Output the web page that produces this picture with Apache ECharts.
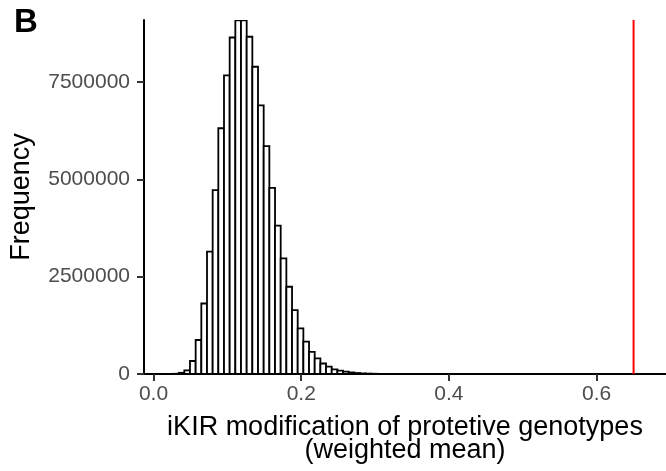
<!DOCTYPE html>
<html>
<head>
<meta charset="utf-8">
<script src="https://cdn.jsdelivr.net/npm/echarts@6/dist/echarts.min.js"></script>
<style>
html,body{margin:0;padding:0;background:#fff;}
#chart{width:666px;height:471px;}
</style>
</head>
<body>
<div id="chart"></div>
<script>
// Histogram bins (regular bin width) and counts
const binStart = 0.02634;
const binWidth = 0.007676;
const counts = [5000, 30000, 95000, 334000, 873000, 1810000, 3140000, 4720000, 6310000, 7670000,
  8640000, 9080000, 9080000, 8660000, 7890000, 6900000, 5850000, 4780000, 3810000, 2970000,
  2240000, 1640000, 1170000, 830000, 570000, 400000, 270000, 190000, 120000, 85000,
  60000, 40000, 25000, 15000, 10000, 6000, 3000];
const observedValue = 0.65;
const xTicks = [0, 0.2, 0.4, 0.6];
const yTicks = [0, 2500000, 5000000, 7500000];
const xMin = -0.0129, xMax = 0.6939;
const yMax = 9090000;

const histData = counts.map((c, i) => [binStart + i * binWidth, binStart + (i + 1) * binWidth, c]);

const FONT = "'Liberation Sans', Arial, Helvetica, sans-serif";
const chart = echarts.init(document.getElementById('chart'), null, {renderer: 'canvas'});
chart.setOption({
  animation: false,
  backgroundColor: '#fff',
  textStyle: {fontFamily: FONT},
  graphic: [{
    type: 'text', left: 14, top: 6,
    style: {text: 'B', font: "bold 33px " + FONT, fill: '#000'}
  }],
  grid: {left: 144, right: 0, top: 20, bottom: 97, containLabel: false, outerBoundsMode: 'none'},
  xAxis: {
    type: 'value', min: xMin, max: xMax,
    splitLine: {show: false},
    axisLine: {show: true, onZero: false, lineStyle: {color: '#000', width: 2}},
    axisTick: {show: true, customValues: xTicks, length: 7, lineStyle: {color: '#333', width: 2}},
    axisLabel: {customValues: xTicks, color: '#4d4d4d', fontSize: 21, margin: 10, fontFamily: FONT,
      formatter: v => v.toFixed(1)},
    name: 'iKIR modification of protetive genotypes\n(weighted mean)',
    nameLocation: 'middle', nameGap: 42,
    nameTextStyle: {color: '#000', fontSize: 27, lineHeight: 23, fontFamily: FONT}
  },
  yAxis: {
    type: 'value', min: 0, max: yMax,
    splitLine: {show: false},
    axisLine: {show: true, onZero: false, lineStyle: {color: '#000', width: 2}},
    axisTick: {show: true, customValues: yTicks, length: 7, lineStyle: {color: '#333', width: 2}},
    axisLabel: {customValues: yTicks, color: '#4d4d4d', fontSize: 21, margin: 14, fontFamily: FONT,
      formatter: v => String(v)},
    name: 'Frequency', nameLocation: 'middle', nameGap: 109, nameRotate: 90,
    nameTextStyle: {color: '#000', fontSize: 27, fontFamily: FONT}
  },
  series: [{
    type: 'custom',
    data: histData,
    clip: true,
    renderItem: function (params, api) {
      const p0 = api.coord([api.value(0), api.value(2)]);
      const p1 = api.coord([api.value(1), 0]);
      return {
        type: 'rect',
        shape: {x: p0[0], y: p0[1], width: p1[0] - p0[0], height: p1[1] - p0[1]},
        style: {fill: '#fff', stroke: '#000', lineWidth: 1.8}
      };
    },
    encode: {x: [0, 1], y: 2}
  }, {
    type: 'line',
    data: [[observedValue, 0], [observedValue, yMax]],
    symbol: 'none',
    lineStyle: {color: '#ff0000', width: 2},
    z: 5
  }]
});
</script>
</body>
</html>
